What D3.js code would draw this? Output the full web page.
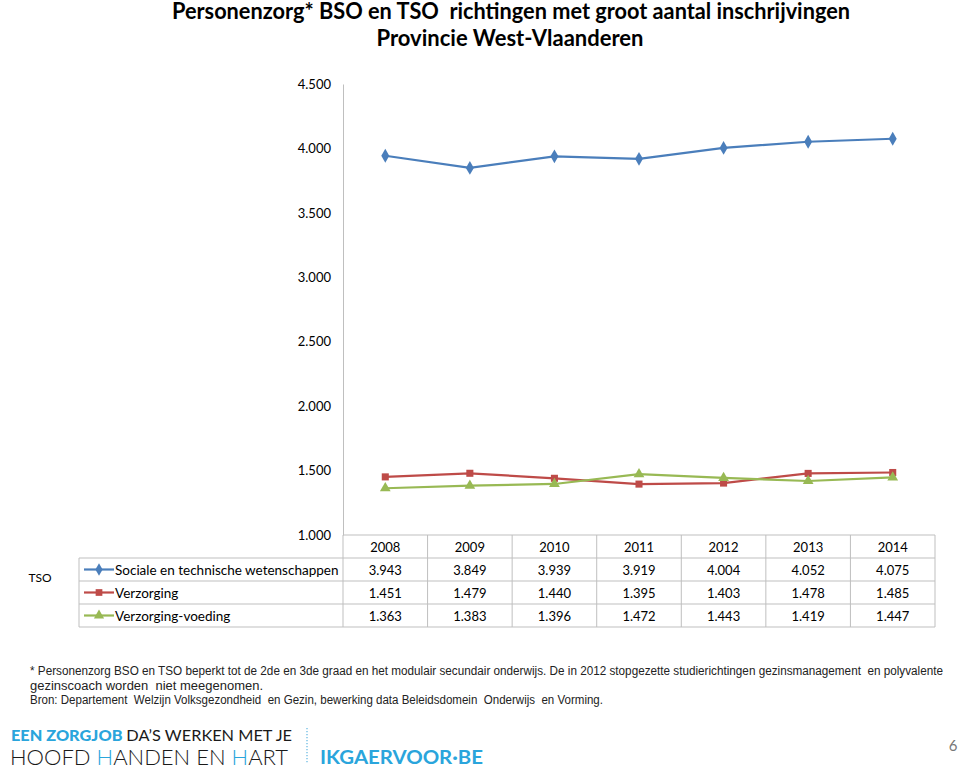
<!DOCTYPE html>
<html>
<head>
<meta charset="utf-8">
<script src="https://cdnjs.cloudflare.com/ajax/libs/d3/7.8.5/d3.min.js"></script>
<style>
  body { margin: 0; background: #fff; }
  svg text { font-family: Lato, 'Open Sans', sans-serif; white-space: pre; }
</style>
</head>
<body>
<svg id="chart" width="960" height="778"></svg>
<script>
  const years = ['2008', '2009', '2010', '2011', '2012', '2013', '2014'];
  const seriesNames = ['Sociale en technische wetenschappen', 'Verzorging', 'Verzorging-voeding'];
  const sociale = [3943, 3849, 3939, 3919, 4004, 4052, 4075];
  const verzorging = [1451, 1479, 1440, 1395, 1403, 1478, 1485];
  const voeding = [1363, 1383, 1396, 1472, 1443, 1419, 1447];
  const yTicks = [1000, 1500, 2000, 2500, 3000, 3500, 4000, 4500];
  const colors = ['#4a7ebb', '#be4b48', '#98b954'];
  const symbols = [d3.symbolDiamond, d3.symbolSquare, d3.symbolTriangle];

  const svg = d3.select('#chart');
  const fmt = function (v) { return d3.format(',')(v).replace(/,/g, '.'); };

  // titel
  svg.append('text').attr('x', 511).attr('y', 19).attr('text-anchor', 'middle')
    .attr('font-size', 22).attr('font-weight', 'bold')
    .attr('textLength', 678).attr('lengthAdjust', 'spacingAndGlyphs')
    .text('Personenzorg* BSO en TSO  richtingen met groot aantal inschrijvingen');
  svg.append('text').attr('x', 510).attr('y', 46).attr('text-anchor', 'middle')
    .attr('font-size', 22).attr('font-weight', 'bold')
    .text('Provincie West-Vlaanderen');

  const left = 343;
  const right = 935;
  const x = d3.scaleBand().domain(years).range([left, right]);
  const y = d3.scaleLinear().domain([1000, 4500]).range([535, 84]);

  // y-as
  const yAxis = svg.append('g').attr('transform', 'translate(' + left + ',0)')
    .call(d3.axisLeft(y).tickValues(yTicks).tickSize(0).tickPadding(12).tickFormat(fmt));
  yAxis.select('.domain').attr('stroke', '#bfbfbf');
  yAxis.selectAll('text').attr('font-size', 13).attr('fill', '#000')
    .style('font-family', 'Lato, sans-serif');

  const line = d3.line()
    .x(function (d, i) { return x(years[i]) + x.bandwidth() / 2; })
    .y(function (d) { return y(d); });

  const allSeries = [sociale, verzorging, voeding];
  allSeries.forEach(function (values, s) {
    svg.append('path').datum(values)
      .attr('fill', 'none').attr('stroke', colors[s]).attr('stroke-width', 2.2)
      .attr('d', line);
    svg.selectAll('.m' + s).data(values).enter().append('path')
      .attr('class', 'm' + s)
      .attr('transform', function (d, i) {
        return 'translate(' + (x(years[i]) + x.bandwidth() / 2) + ',' + y(d) + ')';
      })
      .attr('d', d3.symbol().type(symbols[s]).size(s === 0 ? 55 : 50))
      .attr('fill', colors[s]);
  });

  // datatabel
  const grid = '#bfbfbf';
  const rowTop = 535;
  const rowH = 23;
  const legendLeft = 79;
  const g = svg.append('g');
  g.append('line').attr('x1', left).attr('x2', right).attr('y1', rowTop).attr('y2', rowTop).attr('stroke', grid);
  for (let r = 1; r <= 4; r++) {
    g.append('line').attr('x1', legendLeft).attr('x2', right)
      .attr('y1', rowTop + r * rowH).attr('y2', rowTop + r * rowH).attr('stroke', grid);
  }
  g.append('line').attr('x1', legendLeft).attr('x2', legendLeft)
    .attr('y1', rowTop + rowH).attr('y2', rowTop + 4 * rowH).attr('stroke', grid);
  years.forEach(function (yr) {
    g.append('line').attr('x1', x(yr)).attr('x2', x(yr))
      .attr('y1', rowTop).attr('y2', rowTop + 4 * rowH).attr('stroke', grid);
  });
  g.append('line').attr('x1', right).attr('x2', right)
    .attr('y1', rowTop).attr('y2', rowTop + 4 * rowH).attr('stroke', grid);

  g.selectAll('.yr').data(years).enter().append('text')
    .attr('x', function (d) { return x(d) + x.bandwidth() / 2; })
    .attr('y', rowTop + 16.5).attr('text-anchor', 'middle').attr('font-size', 13)
    .text(function (d) { return d; });

  allSeries.forEach(function (values, s) {
    const ty = rowTop + (s + 1) * rowH + 16.5;
    const cy = rowTop + (s + 1) * rowH + rowH / 2;
    g.append('line').attr('x1', 84).attr('x2', 114).attr('y1', cy).attr('y2', cy)
      .attr('stroke', colors[s]).attr('stroke-width', 2.2);
    g.append('path').attr('transform', 'translate(99,' + cy + ')')
      .attr('d', d3.symbol().type(symbols[s]).size(45)).attr('fill', colors[s]);
    g.append('text').attr('x', 115).attr('y', ty).attr('font-size', 13.5).text(seriesNames[s]);
    g.selectAll('.v' + s).data(values).enter().append('text')
      .attr('x', function (d, i) { return x(years[i]) + x.bandwidth() / 2; })
      .attr('y', ty).attr('text-anchor', 'middle').attr('font-size', 13)
      .text(fmt);
  });

  svg.append('text').attr('x', 40).attr('y', 582).attr('text-anchor', 'middle')
    .attr('font-size', 12).text('TSO');

  // voetnoot
  const noteFont = "'Liberation Sans Narrow', 'Arial Narrow', 'Liberation Sans', sans-serif";
  const notes = [
    '* Personenzorg BSO en TSO beperkt tot de 2de en 3de graad en het modulair secundair onderwijs. De in 2012 stopgezette studierichtingen gezinsmanagement  en polyvalente',
    'gezinscoach worden  niet meegenomen.',
    'Bron: Departement  Welzijn Volksgezondheid  en Gezin, bewerking data Beleidsdomein  Onderwijs  en Vorming.'
  ];
  const noteWidths = [913, 233, 573];
  notes.forEach(function (t, i) {
    svg.append('text').attr('x', 30).attr('y', 675 + i * 14.5)
      .attr('font-size', 12).attr('fill', '#222')
      .attr('textLength', noteWidths[i]).attr('lengthAdjust', 'spacingAndGlyphs')
      .style('font-family', noteFont).text(t);
  });

  // logo
  const logo = svg.append('g');
  const l1 = logo.append('text').attr('x', 11).attr('y', 741).attr('font-size', 15)
    .attr('textLength', 281).attr('lengthAdjust', 'spacingAndGlyphs');
  l1.append('tspan').attr('fill', '#2aa5dc').attr('font-weight', 900).text('EEN ZORGJOB ');
  l1.append('tspan').attr('fill', '#1a1a1a').text('DA\u2019S WERKEN MET JE');
  const l2 = logo.append('text').attr('x', 10).attr('y', 765).attr('font-size', 22)
    .attr('font-weight', 300).attr('fill', '#1a1a1a')
    .attr('textLength', 278).attr('lengthAdjust', 'spacingAndGlyphs');
  l2.append('tspan').text('HOOFD ');
  l2.append('tspan').attr('fill', '#2aa5dc').text('H');
  l2.append('tspan').text('ANDEN EN ');
  l2.append('tspan').attr('fill', '#2aa5dc').text('H');
  l2.append('tspan').text('ART');
  logo.append('line').attr('x1', 307).attr('x2', 307).attr('y1', 728).attr('y2', 764)
    .attr('stroke', '#7fc4e6').attr('stroke-width', 1.5).attr('stroke-dasharray', '1.2,1.8');
  logo.append('text').attr('x', 320).attr('y', 764).attr('font-size', 19)
    .attr('font-weight', 'bold').attr('fill', '#2aa5dc')
    .attr('textLength', 163).attr('lengthAdjust', 'spacingAndGlyphs')
    .text('IKGAERVOOR\u00b7BE');

  svg.append('text').attr('x', 953).attr('y', 751).attr('text-anchor', 'middle')
    .attr('font-size', 15).attr('fill', '#777').text('6');
</script>
</body>
</html>
